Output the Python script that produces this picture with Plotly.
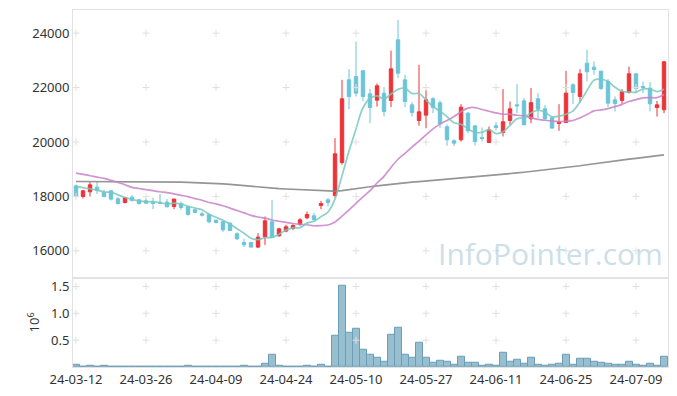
import plotly.graph_objects as go

dates = ["24-03-12","24-03-13","24-03-14","24-03-15","24-03-18","24-03-19","24-03-20","24-03-21","24-03-22","24-03-25",
         "24-03-26","24-03-27","24-03-28","24-03-29","24-04-01","24-04-02","24-04-03","24-04-04","24-04-05","24-04-08",
         "24-04-09","24-04-11","24-04-12","24-04-15","24-04-16","24-04-17","24-04-18","24-04-19","24-04-22","24-04-23",
         "24-04-24","24-04-25","24-04-26","24-04-29","24-04-30","24-05-02","24-05-03","24-05-07","24-05-08","24-05-09",
         "24-05-10","24-05-13","24-05-14","24-05-16","24-05-17","24-05-20","24-05-21","24-05-22","24-05-23","24-05-24",
         "24-05-27","24-05-28","24-05-29","24-05-30","24-05-31","24-06-03","24-06-04","24-06-05","24-06-07","24-06-10",
         "24-06-11","24-06-12","24-06-13","24-06-14","24-06-17","24-06-18","24-06-19","24-06-20","24-06-21","24-06-24",
         "24-06-25","24-06-26","24-06-27","24-06-28","24-07-01","24-07-02","24-07-03","24-07-04","24-07-05","24-07-08",
         "24-07-09","24-07-10","24-07-11","24-07-12","24-07-15"]

opens = [18389,17996,18168,18340,18143,18205,17910,17775,17973,17875,
         17837,17787,17787,17790,17628,17738,17617,17507,17360,17334,
         17128,17065,17016,16625,16305,16305,16136,16514,17066,16551,
         16724,16820,16967,17213,17286,17665,17874,18032,19246,22284,
         22407,22615,21770,21536,21795,21524,23755,22284,21365,20790,
         20985,21586,21439,20557,20042,20079,21060,20594,20164,19980,
         20594,20347,20790,21365,21512,20851,21586,21218,20888,20678,
         20716,22100,21671,22897,22750,22603,22223,21549,21524,21830,
         22505,22040,21979,21266,21182]
highs = [18440,18240,18525,18547,18240,18230,17960,17970,18045,17900,
         17950,17950,18095,17900,17920,17812,17650,17530,17445,17385,
         17150,17100,17050,16680,16441,16330,16650,17261,17874,16850,
         16960,16980,17200,17445,17397,17837,17937,20141,22284,22677,
         23689,22650,21954,22150,22015,23360,24490,22468,21463,22835,
         21917,21647,21524,20650,20100,21390,21100,20600,20532,20570,
         20729,21942,21487,22126,21610,21980,21795,21353,20936,21390,
         22615,22150,22677,23387,22960,22615,22310,21671,21942,22774,
         22530,22223,22200,21512,22980]
lows = [17960,17920,17996,18095,17960,17850,17700,17740,17812,17700,
        17720,17532,17720,17600,17532,17507,17300,17380,17261,17016,
        17010,16700,16720,16400,16136,16130,16100,16209,16466,16520,
        16680,16760,16920,17165,17114,17532,17628,17960,19160,21207,
        21671,21500,20693,21300,20936,21280,22346,21280,20936,20594,
        20508,21060,20508,19859,19850,20017,20325,19870,20017,19960,
        20422,20200,20631,21060,20620,20690,20876,20814,20508,20410,
        20700,21400,21450,22223,22468,21917,21280,21120,21402,21780,
        21795,21795,21120,20936,21060]
closes = [17996,18205,18425,18216,17996,17900,17738,17947,17849,17738,
          17752,17738,17752,17617,17900,17591,17334,17408,17310,17065,
          17040,16772,16746,16441,16220,16136,16503,17103,16503,16808,
          16882,16930,17139,17334,17139,17738,17775,19565,21586,21671,
          21795,21671,21266,22064,21121,22688,22530,21487,21083,21108,
          21549,21266,20667,20079,19957,21280,20410,20017,20127,20447,
          20532,20741,21218,21329,20631,21445,21207,20851,20508,20741,
          21795,21818,22505,22579,22660,21966,21427,21414,21843,22505,
          21966,22003,21402,21365,22946]
volumes = [44000,12000,31000,12000,31000,12000,12000,3000,3000,3000,
           3000,12000,12000,12000,12000,12000,31000,12000,12000,12000,
           4000,12000,12000,12000,31000,4000,12000,62000,231000,31000,
           12000,12000,12000,31000,12000,44000,12000,590000,1505000,644000,
           719000,325000,231000,175000,97000,606000,738000,231000,175000,456000,
           175000,81000,119000,100000,44000,194000,81000,81000,25000,44000,
           25000,269000,100000,137000,62000,175000,44000,25000,44000,62000,
           231000,44000,156000,156000,100000,81000,62000,44000,44000,100000,
           44000,25000,62000,25000,194000]

# moving averages: leading values (they depend on earlier history)
ma5_head = [18360, 18320, 18280, 18230]
ma20_head = [18855, 18810, 18760, 18710, 18660, 18590, 18510, 18430, 18330, 18290,
             18250, 18210, 18170, 18140, 18090, 18040, 17990, 17920, 17860]
ma120 = [18548,18548,18547,18547,18546,18546,18545,18544,18543,18542,
         18540,18538,18535,18532,18528,18524,18518,18512,18503,18492,
         18480,18462,18440,18415,18390,18365,18345,18315,18300,18285,
         18272,18260,18245,18235,18225,18215,18205,
         18195,18215,18255,18290,18322,18354,18386,18418,18450,18480,
         18502,18523,18545,18566,18588,18609,18630,18652,18673,18695,
         18716,18738,18759,18780,18807,18834,18861,18888,18915,18942,
         18969,18996,19023,19050,19088,19126,19164,19202,19240,19272,
         19304,19336,19368,19400,19432,19464,19496,19528]

price_ticks = [16000, 18000, 20000, 22000, 24000]
vol_ticks = [0.5, 1.0, 1.5]
vol_ticktext = ["0.5", "1.0", "1.5"]
x_tick_idx = list(range(0, len(dates), 10))


def rolling(vals, n, head):
    out = list(head)
    for i in range(len(head), len(vals)):
        out.append(sum(vals[i - n + 1:i + 1]) / n)
    return out


ma5 = rolling(closes, 5, ma5_head)
ma20 = rolling(closes, 20, ma20_head)
vol_m = [v / 1e6 for v in volumes]
xtickvals = [dates[i] for i in x_tick_idx]

fig = go.Figure()

fig.add_trace(go.Candlestick(
    x=dates, open=opens, high=highs, low=lows, close=closes,
    xaxis="x", yaxis="y",
    increasing=dict(line=dict(color="#ee3338", width=1), fillcolor="#ee3338"),
    decreasing=dict(line=dict(color="#6cc4d9", width=1), fillcolor="#6cc4d9"),
    whiskerwidth=0, showlegend=False, name="price"))

fig.add_trace(go.Bar(x=dates, y=vol_m, xaxis="x2", yaxis="y2",
                     marker=dict(color="#98bfd0", line=dict(color="#6b9db7", width=1)),
                     showlegend=False))

# grid crosses at tick intersections
gx, gy = [], []
for xv in xtickvals:
    for yv in price_ticks:
        gx.append(xv); gy.append(yv)
fig.add_trace(go.Scatter(x=gx, y=gy, mode="markers", xaxis="x", yaxis="y",
                         marker=dict(symbol="cross-thin", size=5, line=dict(color="#e0e0e0", width=1)),
                         hoverinfo="skip", showlegend=False))
gx2, gy2 = [], []
for xv in xtickvals:
    for yv in vol_ticks:
        gx2.append(xv); gy2.append(yv)
fig.add_trace(go.Scatter(x=gx2, y=gy2, mode="markers", xaxis="x2", yaxis="y2",
                         marker=dict(symbol="cross-thin", size=5, line=dict(color="#e0e0e0", width=1)),
                         hoverinfo="skip", showlegend=False))

fig.add_trace(go.Scatter(x=dates, y=ma120, mode="lines", xaxis="x", yaxis="y",
                         line=dict(color="rgba(130,130,130,0.85)", width=1.7), showlegend=False))
fig.add_trace(go.Scatter(x=dates, y=ma20, mode="lines", xaxis="x", yaxis="y",
                         line=dict(color="rgba(200,130,200,0.85)", width=1.7, shape="spline"), showlegend=False))
fig.add_trace(go.Scatter(x=dates, y=ma5, mode="lines", xaxis="x", yaxis="y",
                         line=dict(color="rgba(120,200,190,0.85)", width=1.7, shape="spline"), showlegend=False))

xr = [-0.43, len(dates) - 0.43]
axis_font = dict(family="Noto Sans", size=13, color="#333333")
fig.update_layout(
    width=677, height=396,
    margin=dict(l=73, r=9, t=10, b=29),
    paper_bgcolor="white", plot_bgcolor="white",
    bargap=0.0,
    font=axis_font,
    xaxis=dict(type="category", categoryorder="array", categoryarray=dates,
               range=xr, domain=[0, 1], anchor="y", automargin=False,
               showticklabels=False, showgrid=False, zeroline=False,
               showline=True, mirror=True, linecolor="#e2e2e2", linewidth=1,
               rangeslider=dict(visible=False), tickvals=xtickvals, ticks=""),
    xaxis2=dict(type="category", categoryorder="array", categoryarray=dates,
                range=xr, domain=[0, 1], anchor="y2", matches="x", automargin=False,
                tickvals=xtickvals, ticktext=xtickvals, ticks="", tickangle=0,
                showgrid=False, zeroline=False,
                showline=True, mirror=True, linecolor="#e2e2e2", linewidth=1,
                tickfont=axis_font),
    yaxis=dict(domain=[0.25, 1], range=[15010, 24850], tickvals=price_ticks, automargin=False,
               ticktext=[str(t) for t in price_ticks], ticks="", showgrid=False, zeroline=False,
               showline=True, mirror=True, linecolor="#e2e2e2", linewidth=1, tickfont=axis_font),
    yaxis2=dict(domain=[0, 0.25], range=[0, 1.663], tickvals=vol_ticks, ticktext=vol_ticktext,
                ticks="", showgrid=False, zeroline=False, automargin=False,
                showline=True, mirror=True, linecolor="#e2e2e2", linewidth=1, tickfont=axis_font,
                title=dict(text="10<sup>6</sup>", font=axis_font, standoff=8)),
    annotations=[dict(text="InfoPointer.com", xref="paper", yref="paper", x=0.8025, y=0.317,
                      xanchor="center", yanchor="middle", showarrow=False,
                      font=dict(family="Open Sans", size=30, color="rgba(170,200,216,0.6)"))],
)

fig.write_html("out.html", config={"displayModeBar": False},
               post_script="document.body.style.margin='0';document.body.style.padding='0';")
